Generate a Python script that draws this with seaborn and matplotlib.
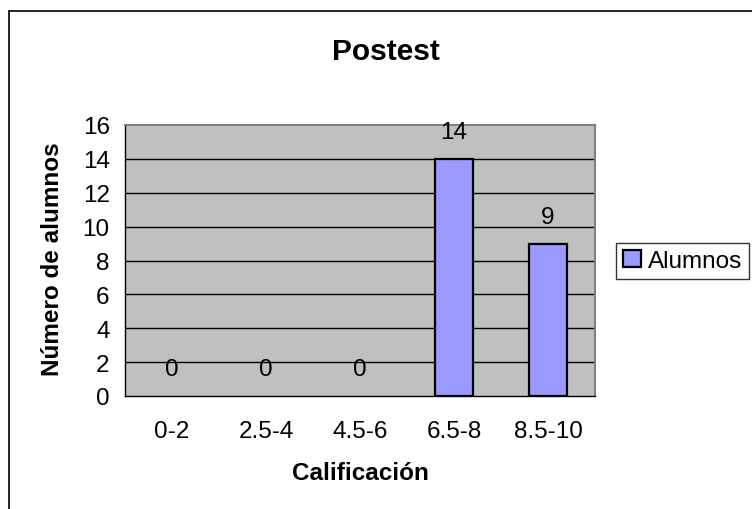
import matplotlib
matplotlib.use("Agg")
import matplotlib.pyplot as plt
import seaborn as sns
import pandas as pd
from matplotlib.lines import Line2D
from matplotlib.patches import Patch

categories = ["0-2", "2.5-4", "4.5-6", "6.5-8", "8.5-10"]
alumnos = [0, 0, 0, 14, 9]
series_name = "Alumnos"
title = "Postest"
xlabel = "Calificación"
ylabel = "Número de alumnos"
yticks = [0, 2, 4, 6, 8, 10, 12, 14, 16]

sns.set_style("white")
plt.rcParams["font.family"] = ["Liberation Sans", "DejaVu Sans"]
plt.rcParams.update({"text.color": "black", "axes.labelcolor": "black",
                     "xtick.color": "black", "ytick.color": "black"})

FS = 17.5
df = pd.DataFrame({"cat": categories, "val": alumnos})

W, H = 752, 510
fig = plt.figure(figsize=(W / 100, H / 100), dpi=100)
fig.patch.set_facecolor("white")
ax = fig.add_axes([125 / W, 1 - 397 / H, (595 - 125) / W, (397 - 126) / H])
ax.set_facecolor("#C0C0C0")

sns.barplot(data=df, x="cat", y="val", ax=ax, color="#9999FF", width=0.4,
            edgecolor="black", linewidth=1.6, saturation=1, zorder=3)
for bar in ax.patches:
    if bar.get_height() == 0:
        bar.set_linewidth(0)

ax.set_ylim(0, 16)
ax.set_xlim(-0.5, len(categories) - 0.5)
ax.set_yticks(yticks)
ax.set_yticklabels([str(v) for v in yticks], fontsize=FS)
ax.set_xticks(range(len(categories)))
ax.set_xticklabels(categories, fontsize=FS)
for v in yticks[1:-1]:
    ax.axhline(v, color="black", lw=1, zorder=1)

ax.tick_params(axis="x", which="major", length=0, pad=17)
ax.set_xticks([i - 0.5 for i in range(len(categories) + 1)], minor=True)
ax.tick_params(axis="x", which="minor", length=7, width=1, color="black", direction="out")
ax.tick_params(axis="y", length=7, width=1, color="black", direction="out", pad=4)

for s in ["left", "bottom"]:
    ax.spines[s].set_color("black")
    ax.spines[s].set_linewidth(1)
for s in ["top", "right"]:
    ax.spines[s].set_color("#808080")
    ax.spines[s].set_linewidth(1.5)

for bar, v in zip(ax.patches, alumnos):
    ax.annotate(str(v), (bar.get_x() + bar.get_width() / 2, bar.get_height()),
                xytext=(0, 19.4), textcoords="offset points",
                ha="center", va="center", fontsize=FS)

ax.set_xlabel(xlabel, fontsize=FS, fontweight="bold", labelpad=14)
ax.set_ylabel(ylabel, fontsize=FS, fontweight="bold")
ax.yaxis.set_label_coords(64 / W, 1 - 259 / H, transform=fig.transFigure)

fig.text(386 / W, 1 - 52 / H, title, fontsize=21.5, fontweight="bold",
         ha="center", va="center")

leg = fig.legend(handles=[Patch(facecolor="#9999FF", edgecolor="black", linewidth=1.6, label=series_name)],
                 loc="center left", bbox_to_anchor=(616 / W, 1 - 262 / H),
                 fontsize=FS, frameon=True, fancybox=False, handlelength=0.72,
                 handleheight=0.72, handletextpad=0.28, borderpad=0.3, borderaxespad=0)
leg.get_frame().set_edgecolor("black")
leg.get_frame().set_linewidth(1)

fig.add_artist(Line2D([8.5 / W, 8.5 / W], [0, 1 - 11.5 / H], transform=fig.transFigure, color="black", lw=1.2))
fig.add_artist(Line2D([8.5 / W, 1], [1 - 11.5 / H, 1 - 11.5 / H], transform=fig.transFigure, color="black", lw=1.2))

fig.savefig("out.png", dpi=100)
